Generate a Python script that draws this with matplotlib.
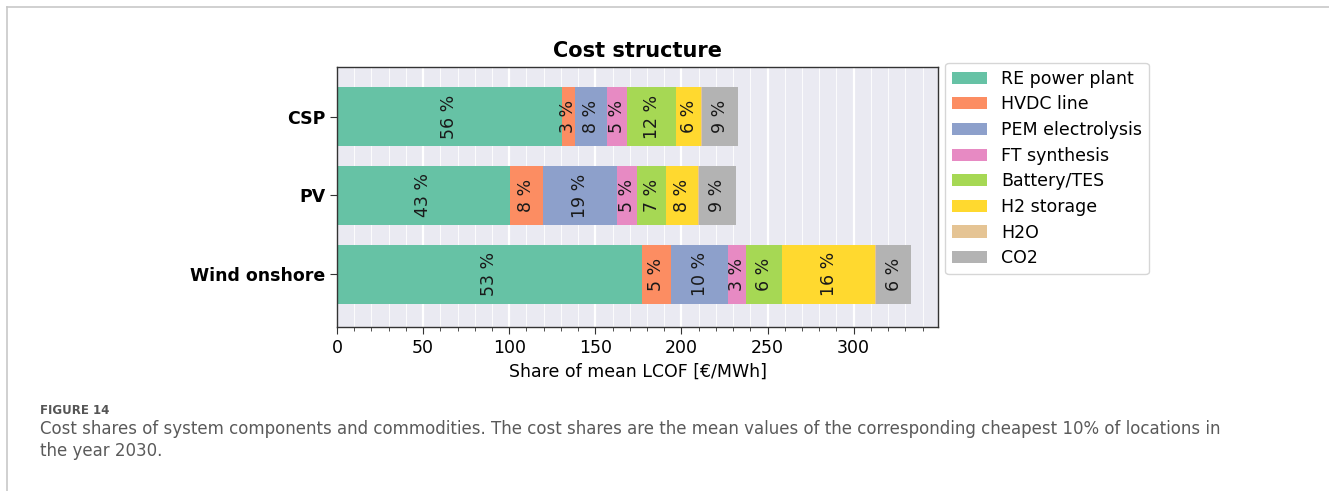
import numpy as np
import matplotlib.pyplot as plt
from matplotlib.lines import Line2D
from matplotlib.ticker import MultipleLocator

# mean cost shares of the cheapest 10% of locations [EUR/MWh]
techs = ['CSP', 'PV', 'Wind onshore']
components = ['RE power plant', 'HVDC line', 'PEM electrolysis', 'FT synthesis',
              'Battery/TES', 'H2 storage', 'H2O', 'CO2']
re_plant = [130.5, 100.2, 177.0]
hvdc = [7.5, 19.2, 17.0]
pem = [19.0, 43.1, 33.0]
ft = [11.5, 11.7, 10.5]
battery = [28.5, 16.9, 21.0]
h2_storage = [14.5, 18.6, 54.0]
h2o = [0.5, 0.4, 0.5]
co2 = [21.0, 21.6, 20.5]

colors = ['#66c2a5', '#fc8d62', '#8da0cb', '#e78ac3',
          '#a6d854', '#ffd92f', '#e5c494', '#b3b3b3']

data = np.array([re_plant, hvdc, pem, ft, battery, h2_storage, h2o, co2])
totals = data.sum(axis=0)

plt.rc("font", family="DejaVu Sans")

fig = plt.figure(figsize=(13.29, 4.91), dpi=100)
ax = fig.add_axes([0.2536, 0.334, 0.4522, 0.5295])
ax.set_facecolor('#eaeaf2')

ypos = np.arange(len(techs))[::-1]
left = np.zeros(len(techs))
for i, comp in enumerate(components):
    ax.barh(ypos, data[i], left=left, height=0.75, color=colors[i],
            label=comp, zorder=2)
    for y, l, v, t in zip(ypos, left, data[i], totals):
        pct = v / t * 100
        if pct >= 2:
            ax.text(l + v / 2, y, f'{pct:.0f} %', rotation=90, ha='center',
                    va='center', fontsize=12.5, color='#1a1a1a', zorder=3)
    left += data[i]

ax.set_yticks(ypos)
ax.set_yticklabels(techs, fontsize=12.5, fontweight='bold')
ax.set_ylim(-0.67, 2.63)
ax.set_xlim(0, 349)

ax.xaxis.set_major_locator(MultipleLocator(50))
ax.xaxis.set_minor_locator(MultipleLocator(10))
ax.grid(which='major', axis='x', color='white', lw=1.6, zorder=0)
ax.grid(which='minor', axis='x', color='white', lw=0.6, zorder=0)
ax.set_axisbelow(True)
ax.tick_params(axis='x', which='major', labelsize=12.5, length=5, color='#333333')
ax.tick_params(axis='x', which='minor', length=3, color='#333333')
ax.tick_params(axis='y', length=5, color='#333333')
for s in ax.spines.values():
    s.set_color('#333333')
    s.set_linewidth(1.0)

ax.set_xlabel('Share of mean LCOF [€/MWh]', fontsize=12.5)
ax.set_title('Cost structure', fontsize=15, fontweight='bold', pad=7)

leg = ax.legend(loc='upper left', bbox_to_anchor=(1.012, 1.016), fontsize=12.5,
                frameon=True, handlelength=2.0, labelspacing=0.44,
                borderaxespad=0, fancybox=True)
leg.get_frame().set_edgecolor('#cccccc')

# page frame and caption
fig.add_artist(Line2D([7 / 1329, 1], [1 - 7 / 491, 1 - 7 / 491], color='#c8c8c8', lw=1.2))
fig.add_artist(Line2D([7 / 1329, 7 / 1329], [0, 1 - 7 / 491], color='#c8c8c8', lw=1.2))

fig.text(40 / 1329, 1 - 410 / 491, 'FIGURE 14', fontsize=8.5, color='#555555',
         fontweight='bold', va='center')
fig.text(40 / 1329, 1 - 429 / 491,
         'Cost shares of system components and commodities. The cost shares are the mean '
         'values of the corresponding cheapest 10% of locations in',
         fontsize=12, color='#5a5a5a', va='center')
fig.text(40 / 1329, 1 - 451 / 491, 'the year 2030.', fontsize=12, color='#5a5a5a',
         va='center')

fig.savefig('out.png', dpi=100)
